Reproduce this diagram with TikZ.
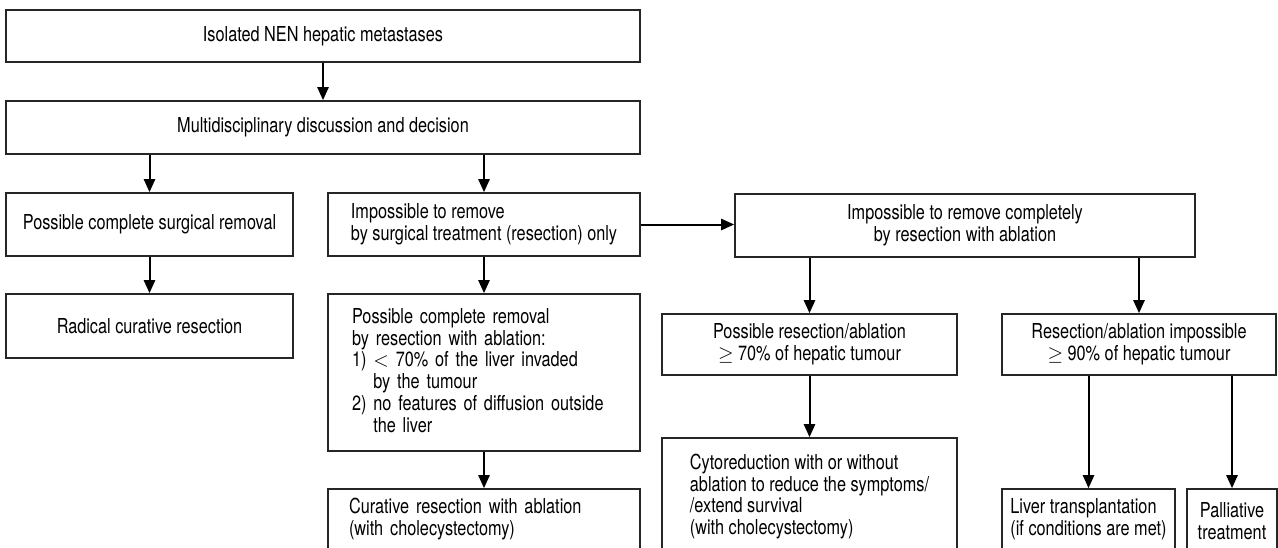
\documentclass[tikz,border=0pt]{standalone}
\usepackage{fontspec}
\setmainfont{TeX Gyre Heros}[FakeStretch=0.79]
\usepackage{amsmath, amssymb}
\usetikzlibrary{positioning}
\usetikzlibrary{arrows.meta}
\usetikzlibrary{shapes}

\newcommand{\boxfont}{\fontsize{10.3}{10.85}\selectfont}

\tikzset{
        boxnode/.style={rectangle, draw=black!85, line width=0.85pt, inner sep=0pt, font=\boxfont},
        % Boxes with centred text
        node_centre/.style={boxnode, align=center},
        % Boxes with text set flush left
        node_left/.style={boxnode, align=left}
}

\begin{document}
\begin{tikzpicture}[
            ->, >={Triangle[length=6.5pt, width=5.6pt]},
            line width=1pt,
            x=0.5pt, y=-0.5pt
        ]
            \useasboundingbox (0,0) rectangle (1278,547);
            \clip (0,0) rectangle (1278,547);

            % Top of the chart
            \node[node_centre, minimum width=317pt, minimum height=26pt] (isolated) at (323,36) {Isolated NEN hepatic metastases};
            \node[node_centre, minimum width=317pt, minimum height=26.5pt] (decision) at (323,127.5) {Multidisciplinary discussion and decision};

            % Second row
            \node[node_centre, minimum width=143.5pt, minimum height=31.5pt] (surgical) at (149.5,224.5) {Possible complete surgical removal};
            \node[node_left, minimum width=156pt, minimum height=31.5pt] (notresect) at (484,224.5) {Impossible to remove\\by surgical treatment (resection) only};
            \node[node_centre, minimum width=230pt, minimum height=31.5pt] (notablate) at (965,225.5) {Impossible to remove completely\\by resection with ablation};

            % Third row
            \node[node_centre, minimum width=143.5pt, minimum height=32pt] (radical) at (149.5,326) {Radical curative resection};
            \node[node_left, text width=132pt, inner xsep=12pt, minimum height=78.5pt] (ablation) at (484,372.5) {Possible complete removal\\by resection with ablation:\\1) $<$ 70\% of the liver invaded\\\phantom{1) }by the tumour\\2) no features of diffusion outside\\\phantom{2) }the liver};
            \node[node_centre, minimum width=147.5pt, minimum height=30.5pt] (partial) at (809.5,344.5) {Possible resection/ablation\\$\geq$ 70\% of hepatic tumour};
            \node[node_centre, minimum width=137pt, minimum height=30.5pt] (impossible) at (1139,344.5) {Resection/ablation impossible\\$\geq$ 90\% of hepatic tumour};

            % Bottom row (cut by the lower edge)
            \node[node_left, text width=135pt, inner xsep=10.5pt, minimum height=30pt] (curative) at (484,519) {Curative resection with ablation\\(with cholecystectomy)};
            \node[node_left, minimum width=147.5pt, minimum height=58.5pt] (cytoreduction) at (809.5,496.5) {Cytoreduction with or without\\ablation to reduce the symptoms/\\/extend survival\\(with cholecystectomy)};
            \node[node_left, minimum width=86.5pt, minimum height=30pt] (transplant) at (1088.5,519) {Liver transplantation\\(if conditions are met)};
            \node[node_centre, minimum width=45pt, minimum height=32pt] (palliative) at (1232,521) {Palliative\\treatment};

            \draw (isolated) -- (decision);
            \draw (decision.south -| surgical) -- (surgical);
            \draw (decision.south -| notresect) -- (notresect);
            \draw (surgical) -- (radical);
            \draw (notresect) -- (ablation);
            \draw (ablation) -- (curative);
            \draw (notresect.east) -- (notresect.east -| notablate.west);
            \draw (notablate.south -| partial) -- (partial);
            \draw (notablate.south -| impossible) -- (impossible);
            \draw (partial) -- (cytoreduction);
            \draw (impossible.south -| transplant) -- (transplant);
            \draw (impossible.south -| palliative) -- (palliative);
        \end{tikzpicture}
\end{document}
